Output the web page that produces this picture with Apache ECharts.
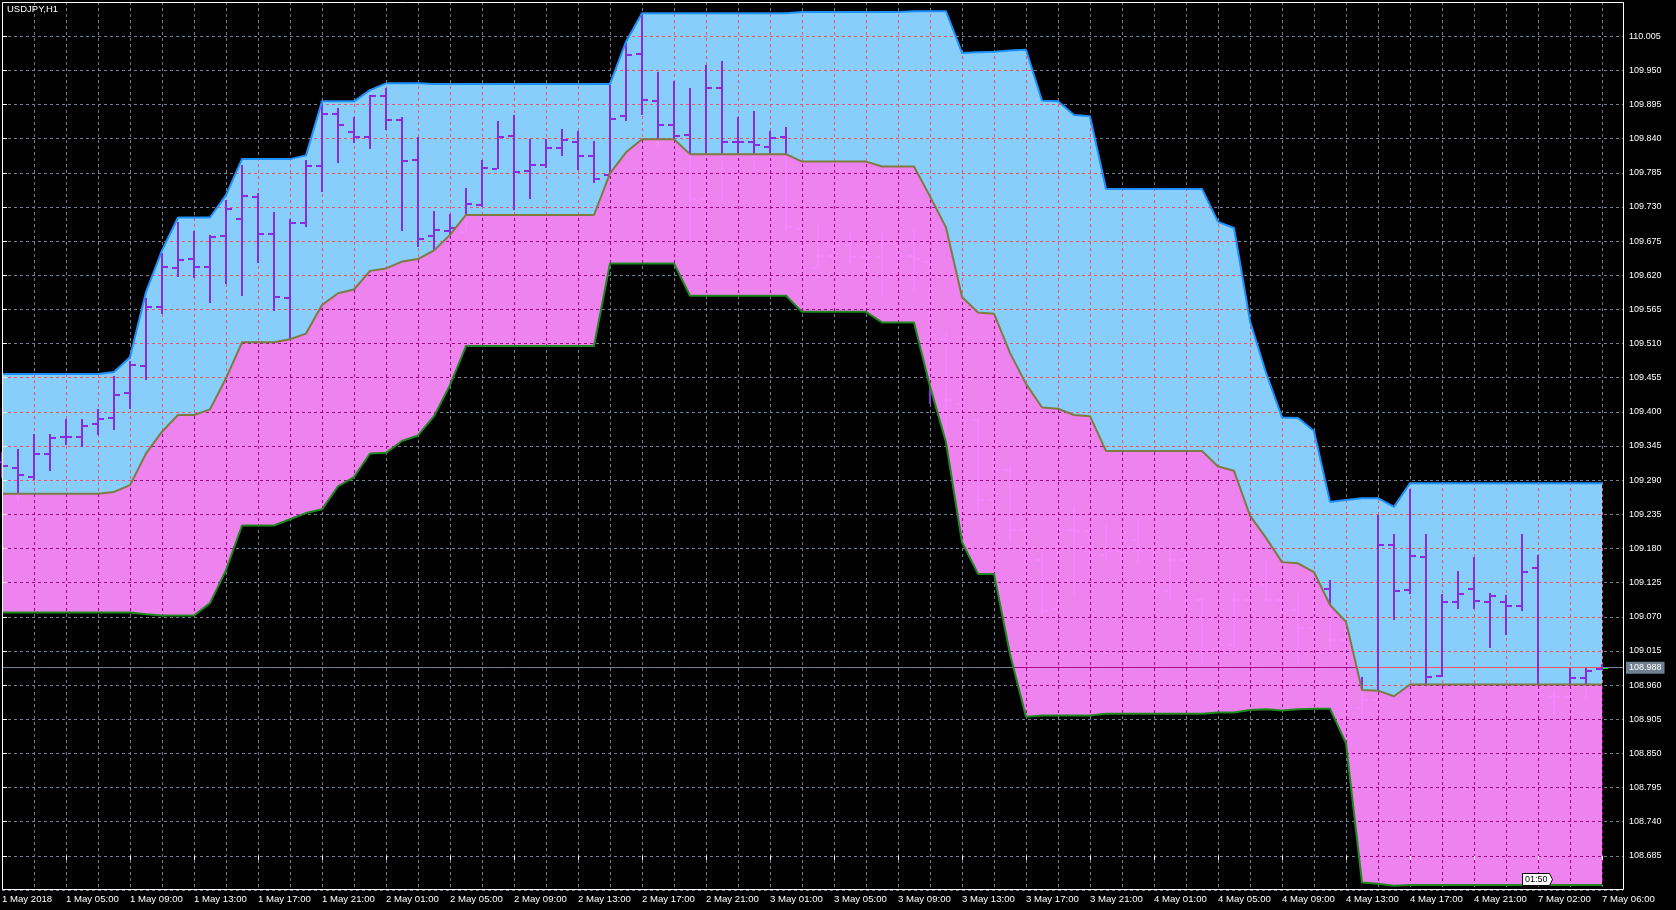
<!DOCTYPE html>
<html>
<head>
<meta charset="utf-8">
<title>USDJPY,H1</title>
<script src="https://cdn.jsdelivr.net/npm/echarts@6/dist/echarts.min.js"></script>
<style>
html,body{margin:0;padding:0;background:#000;overflow:hidden;}
#chart{width:1676px;height:910px;}
</style>
</head>
<body>
<div id="chart"></div>
<script>
// ---------------- data ----------------
const chartTitle = 'USDJPY,H1';
const countdownText = '01:50';
const lastPrice = 108.988;

// x tick labels, one every 4 hourly bars (bar index 0,4,8,...,100)
const tickLabels = ['1 May 2018','1 May 05:00','1 May 09:00','1 May 13:00','1 May 17:00','1 May 21:00',
  '2 May 01:00','2 May 05:00','2 May 09:00','2 May 13:00','2 May 17:00','2 May 21:00',
  '3 May 01:00','3 May 05:00','3 May 09:00','3 May 13:00','3 May 17:00','3 May 21:00',
  '4 May 01:00','4 May 05:00','4 May 09:00','4 May 13:00','4 May 17:00','4 May 21:00',
  '7 May 02:00','7 May 06:00'];

// y tick labels
const priceTicks = ['108.685','108.740','108.795','108.850','108.905','108.960','109.015','109.070','109.125',
  '109.180','109.235','109.290','109.345','109.400','109.455','109.510','109.565','109.620','109.675',
  '109.730','109.785','109.840','109.895','109.950','110.005'];

const upperBand = [
109.461,109.461,109.461,109.461,109.461,109.461,109.461,109.464,109.488,109.593,
109.660,109.713,109.713,109.713,109.749,109.807,109.807,109.807,109.807,109.813,
109.900,109.900,109.900,109.918,109.929,109.929,109.929,109.928,109.928,109.928,
109.928,109.928,109.928,109.928,109.928,109.928,109.928,109.928,109.928,109.996,
110.042,110.042,110.042,110.042,110.042,110.042,110.042,110.042,110.042,110.042,
110.044,110.044,110.044,110.044,110.044,110.044,110.044,110.045,110.045,110.045,
109.978,109.979,109.980,109.982,109.983,109.901,109.900,109.878,109.876,109.759,
109.759,109.759,109.759,109.759,109.759,109.759,109.706,109.696,109.546,109.463,
109.391,109.390,109.369,109.255,109.258,109.261,109.261,109.247,109.285,109.285,
109.285,109.285,109.285,109.285,109.285,109.285,109.285,109.285,109.285,109.285,
109.285];

const middleBand = [
109.268,109.268,109.268,109.268,109.268,109.268,109.268,109.271,109.282,109.333,
109.368,109.395,109.395,109.404,109.454,109.512,109.512,109.512,109.517,109.526,
109.572,109.591,109.597,109.627,109.631,109.642,109.646,109.660,109.685,109.717,
109.717,109.717,109.717,109.717,109.717,109.717,109.717,109.717,109.784,109.818,
109.839,109.839,109.839,109.815,109.815,109.815,109.815,109.815,109.815,109.815,
109.803,109.803,109.803,109.803,109.803,109.795,109.795,109.795,109.747,109.697,
109.585,109.560,109.558,109.495,109.445,109.407,109.405,109.395,109.393,109.337,
109.337,109.337,109.337,109.337,109.337,109.337,109.312,109.305,109.233,109.197,
109.158,109.156,109.142,109.089,109.062,108.952,108.951,108.942,108.961,108.961,
108.961,108.961,108.961,108.961,108.961,108.961,108.961,108.961,108.961,108.961,
108.961];

const lowerBand = [
109.077,109.077,109.077,109.077,109.077,109.077,109.077,109.077,109.077,109.074,
109.072,109.072,109.072,109.092,109.145,109.217,109.217,109.217,109.227,109.237,
109.243,109.280,109.295,109.333,109.334,109.353,109.362,109.393,109.443,109.506,
109.506,109.506,109.506,109.506,109.506,109.506,109.506,109.506,109.639,109.639,
109.639,109.639,109.639,109.587,109.587,109.587,109.587,109.587,109.587,109.587,
109.561,109.561,109.561,109.561,109.561,109.544,109.544,109.544,109.441,109.351,
109.190,109.139,109.139,109.010,108.909,108.911,108.911,108.911,108.911,108.914,
108.914,108.914,108.914,108.914,108.914,108.914,108.916,108.916,108.920,108.921,
108.919,108.921,108.922,108.922,108.866,108.642,108.640,108.637,108.638,108.638,
108.638,108.638,108.638,108.638,108.638,108.638,108.638,108.638,108.638,108.638,
108.638];

const barOpen = [
109.319,109.310,109.295,109.332,109.360,109.360,109.380,109.390,109.430,109.474,
109.569,109.632,109.646,109.633,109.683,109.710,109.746,109.686,109.583,109.704,
109.796,109.879,109.851,109.842,109.909,109.870,109.805,109.683,109.691,109.690,
109.733,109.791,109.844,109.788,109.797,109.825,109.835,109.812,109.781,109.877,
109.977,109.901,109.862,109.846,109.742,109.922,109.835,109.835,109.827,109.843,
109.695,109.632,109.651,109.668,109.649,109.649,109.670,109.651,109.641,109.518,
109.412,109.387,109.258,109.306,109.209,109.161,109.082,109.209,109.208,109.169,
109.176,109.193,109.177,109.111,109.161,109.097,109.016,109.024,109.097,109.121,
109.097,109.081,109.052,109.114,109.032,108.923,108.936,109.185,109.113,109.166,
108.974,109.093,109.114,109.093,109.093,109.087,109.149,108.940,108.940,108.971,
108.986];

const barHigh = [
109.335,109.340,109.365,109.365,109.389,109.389,109.404,109.457,109.482,109.584,
109.656,109.705,109.691,109.685,109.741,109.797,109.752,109.722,109.710,109.805,
109.899,109.889,109.875,109.911,109.921,109.875,109.842,109.724,109.718,109.761,
109.806,109.868,109.878,109.840,109.840,109.855,109.852,109.836,109.926,109.996,
110.042,109.948,109.933,109.921,109.958,109.965,109.875,109.884,109.852,109.858,
109.699,109.704,109.685,109.688,109.683,109.688,109.676,109.693,109.652,109.528,
109.470,109.390,109.354,109.314,109.213,109.182,109.234,109.248,109.211,109.219,
109.209,109.226,109.182,109.177,109.174,109.100,109.032,109.111,109.140,109.161,
109.121,109.108,109.121,109.129,109.052,108.973,109.234,109.204,109.275,109.204,
109.106,109.143,109.166,109.109,109.105,109.204,109.169,108.952,108.988,108.988,
108.994];

const barLow = [
109.293,109.255,109.291,109.305,109.347,109.344,109.362,109.370,109.404,109.451,
109.558,109.617,109.616,109.575,109.606,109.587,109.640,109.563,109.518,109.697,
109.754,109.801,109.833,109.824,109.854,109.691,109.666,109.660,109.676,109.689,
109.730,109.791,109.725,109.742,109.792,109.812,109.789,109.768,109.780,109.869,
109.878,109.827,109.840,109.676,109.665,109.741,109.773,109.781,109.776,109.693,
109.631,109.631,109.641,109.639,109.620,109.585,109.636,109.596,109.412,109.354,
109.370,109.240,109.240,109.190,109.126,109.074,109.080,109.103,109.139,109.161,
109.145,109.158,109.103,109.097,109.081,108.995,108.992,109.019,109.089,109.093,
109.056,108.995,109.016,109.008,108.911,108.903,108.928,109.064,109.106,108.962,
108.973,109.082,109.082,109.020,109.040,109.079,108.936,108.911,108.936,108.938,
108.984];

const barClose = [
109.313,109.298,109.332,109.358,109.360,109.377,109.388,109.427,109.476,109.569,
109.633,109.644,109.633,109.682,109.726,109.747,109.686,109.585,109.704,109.796,
109.879,109.862,109.842,109.909,109.870,109.804,109.678,109.693,109.696,109.734,
109.793,109.843,109.786,109.797,109.825,109.837,109.812,109.775,109.871,109.975,
109.902,109.862,109.844,109.742,109.922,109.835,109.835,109.829,109.841,109.697,
109.632,109.651,109.668,109.649,109.649,109.670,109.651,109.646,109.523,109.419,
109.387,109.258,109.306,109.209,109.161,109.079,109.209,109.208,109.169,109.176,
109.193,109.177,109.111,109.161,109.097,109.016,109.024,109.097,109.121,109.097,
109.081,109.052,109.110,109.032,108.923,108.936,109.185,109.111,109.168,108.973,
109.093,109.106,109.095,109.104,109.087,109.142,108.944,108.940,108.972,108.983,
108.988];

// ---------------- helpers ----------------
const FONT = 'Liberation Sans';
const BASE = 108.685, SCALE = 1000, STEP = 55;     // axis runs in 0.001 units above 108.685
const toV = p => (p - BASE) * SCALE;
const N = upperBand.length;
const X_MAX = 101.3125;
const GRID = {left: 2, top: 2, right: 53, bottom: 20};

const C = {
  grid: '#708090', gridOnBlue: '#F74E6A', gridOnPink: '#9E027E',
  blue: '#87CEFA', pink: 'rgba(253,138,253,0.94)',
  upper: '#1E90FF', middle: '#7F7A40', lower: '#1E8A1E', bar: '#8A2BE2'
};

const U = upperBand.map(toV), M = middleBand.map(toV), L = lowerBand.map(toV);

function above(a, b, p) { if (a > p && b > p) return [0, 1]; if (a <= p && b <= p) return null; const t = (p - a) / (b - a); return a > p ? [0, t] : [t, 1]; }
function below(a, b, p) { return above(-a, -b, -p); }
function both(I, J) { if (!I || !J) return null; const s = Math.max(I[0], J[0]), e = Math.min(I[1], J[1]); return e - s > 1e-9 ? [s, e] : null; }
function addPiece(arr, s, e) { const last = arr[arr.length - 1]; if (last && Math.abs(last[1] - s) < 1e-9) last[1] = e; else arr.push([s, e]); }
function levelPieces(p) {
  const out = {blue: [], pink: [], dark: []};
  for (let i = 0; i < N - 1; i++) {
    const b = both(above(U[i], U[i + 1], p), below(M[i], M[i + 1], p)); if (b) addPiece(out.blue, i + b[0], i + b[1]);
    const k = both(above(M[i], M[i + 1], p), below(L[i], L[i + 1], p)); if (k) addPiece(out.pink, i + k[0], i + k[1]);
    const d1 = below(U[i], U[i + 1], p); if (d1) addPiece(out.dark, i + d1[0], i + d1[1]);
    const d2 = above(L[i], L[i + 1], p); if (d2) addPiece(out.dark, i + d2[0], i + d2[1]);
  }
  addPiece(out.dark, N - 1, X_MAX);
  return out;
}

// overlay segments: [x0, v0, x1, v1, type]
// type 0 grid on blue, 1 grid on pink, 2 price line on black, 3 price on blue, 4 price on pink
const lowOverlay = [], highOverlay = [];
for (let k = 0; k < priceTicks.length; k++) {
  const p = STEP * k;
  const pc = levelPieces(p);
  pc.blue.forEach(s => lowOverlay.push([s[0], p, s[1], p, 0]));
  pc.pink.forEach(s => highOverlay.push([s[0], p, s[1], p, 1]));
}
for (let i = 2; i < N; i += 2) {
  if (U[i] > M[i]) lowOverlay.push([i, U[i], i, M[i], 0]);
  if (M[i] > L[i]) highOverlay.push([i, M[i], i, L[i], 1]);
}
{
  const p = toV(lastPrice);
  const pc = levelPieces(p);
  pc.blue.forEach(s => lowOverlay.push([s[0], p, s[1], p, 3]));
  pc.pink.forEach(s => highOverlay.push([s[0], p, s[1], p, 4]));
  pc.dark.forEach(s => highOverlay.push([s[0], p, s[1], p, 2]));
}

function snap(v) { const d = Math.round(v * 2); return (d + 1) % 2 === 0 ? d / 2 : (d + 1) / 2; }
const overlayColors = [C.gridOnBlue, C.gridOnPink, C.grid, C.gridOnBlue, C.gridOnPink];
function renderOverlay(params, api) {
  const a = api.coord([api.value(0), api.value(1)]);
  const b = api.coord([api.value(2), api.value(3)]);
  const t = api.value(4);
  const dashed = t < 2;
  let shape, off;
  if (Math.abs(a[1] - b[1]) < 0.01) {
    const y = snap(a[1]); const x1 = Math.min(a[0], b[0]), x2 = Math.max(a[0], b[0]);
    shape = {x1: x1, y1: y, x2: x2, y2: y}; off = x1 - GRID.left;
  } else {
    const x = snap(a[0]); const y1 = Math.min(a[1], b[1]), y2 = Math.max(a[1], b[1]);
    shape = {x1: x, y1: y1, x2: x, y2: y2}; off = y1 - GRID.top;
  }
  return {type: 'line', shape: shape, silent: true,
    style: {stroke: overlayColors[t], lineWidth: 1, lineDash: dashed ? [3, 3] : null, lineDashOffset: dashed ? off : 0}};
}

function bandPolygon(topArr, botArr, fill) {
  return function (params, api) {
    if (params.dataIndex !== 0) return null;
    const pts = [];
    for (let i = 0; i < N; i++) pts.push(api.coord([i, topArr[i]]));
    for (let i = N - 1; i >= 0; i--) pts.push(api.coord([i, botArr[i]]));
    return {type: 'polygon', shape: {points: pts}, style: {fill: fill}, silent: true};
  };
}

const barData = barOpen.map((o, i) => [i, toV(o), toV(barHigh[i]), toV(barLow[i]), toV(barClose[i])]);
function renderBar(params, api) {
  const i = api.value(0);
  const pO = api.coord([i, api.value(1)]), pH = api.coord([i, api.value(2)]);
  const pL = api.coord([i, api.value(3)]), pC = api.coord([i, api.value(4)]);
  const x = Math.round(pO[0]);
  const yH = Math.round(pH[1]), yL = Math.round(pL[1]);
  const last = params.dataIndex === N - 1;
  return {type: 'group', silent: true, children: [
    {type: 'rect', shape: {x: x - 1, y: yH, width: 2, height: Math.max(1, yL - yH)}, style: {fill: C.bar}},
    {type: 'rect', shape: {x: x - 6, y: Math.round(pO[1]) - 1, width: 5, height: 2}, style: {fill: C.bar}},
    {type: 'rect', shape: {x: x + 1, y: Math.round(pC[1]) - 1, width: 5, height: 2}, style: {fill: last ? '#00FF00' : C.bar}}
  ]};
}

const lineSeries = (arr, color, z, extra) => Object.assign({
  type: 'line', data: arr.map((v, i) => [i, v]), symbol: 'none', showSymbol: false, silent: true,
  lineStyle: {color: color, width: 2}, z: z, animation: false
}, extra || {});

const dashStyle = {color: C.grid, width: 1, type: [3, 3]};
const axisText = {color: '#FFFFFF', fontFamily: FONT};

const option = {
  backgroundColor: '#000000',
  animation: false,
  title: {text: chartTitle, left: 7, top: 4, padding: 0, textStyle: {color: '#FFFFFF', fontSize: 9.5, fontWeight: 'normal', fontFamily: FONT}},
  grid: Object.assign({containLabel: false, outerBoundsMode: 'none'}, GRID),
  xAxis: [
    {type: 'value', min: 0, max: X_MAX, interval: 2, axisLine: {show: false}, axisTick: {show: false}, axisLabel: {show: false},
      splitLine: {show: true, lineStyle: dashStyle}},
    {type: 'value', min: 0, max: X_MAX, interval: 4, position: 'bottom', z: 10, axisLine: {show: false}, splitLine: {show: false},
      axisTick: {show: true, length: 4, lineStyle: {color: '#FFFFFF', width: 1}},
      axisLabel: Object.assign({show: true, fontSize: 9.6, align: 'left', margin: 4, showMaxLabel: false, showMinLabel: true,
        formatter: v => (Math.abs(v / 4 - Math.round(v / 4)) < 1e-6 && tickLabels[Math.round(v / 4)]) || ''}, axisText)}
  ],
  yAxis: [
    {type: 'value', min: -STEP, max: STEP * 25, interval: STEP, position: 'right', axisLine: {show: false}, axisTick: {show: false},
      axisLabel: {show: false}, splitLine: {show: true, lineStyle: dashStyle}},
    {type: 'value', min: -STEP, max: STEP * 25, interval: STEP, position: 'right', z: 10, axisLine: {show: false}, splitLine: {show: false},
      axisTick: {show: true, length: 5, lineStyle: {color: '#FFFFFF', width: 1}},
      axisLabel: Object.assign({show: true, fontSize: 9, margin: 6, showMinLabel: false, showMaxLabel: false,
        formatter: v => { const k = Math.round(v / STEP); return priceTicks[k] || ''; }}, axisText)}
  ],
  series: [
    {type: 'custom', z: 2, silent: true, data: [[0, 0]], encode: {x: 0, y: 1}, renderItem: bandPolygon(U, M, C.blue)},
    {type: 'custom', z: 3, silent: true, data: lowOverlay, encode: {x: [0, 2], y: [1, 3]}, renderItem: renderOverlay},
    {type: 'custom', z: 4, silent: true, data: barData, encode: {x: 0, y: [1, 2, 3, 4]}, renderItem: renderBar},
    {type: 'custom', z: 5, silent: true, data: [[0, 0]], encode: {x: 0, y: 1}, renderItem: bandPolygon(M, L, C.pink)},
    {type: 'custom', z: 6, silent: true, data: highOverlay, encode: {x: [0, 2], y: [1, 3]}, renderItem: renderOverlay},
    lineSeries(L, C.lower, 7),
    lineSeries(M, C.middle, 7),
    lineSeries(U, C.upper, 8, {
      markLine: {silent: true, symbol: 'none', animation: false, data: [{yAxis: toV(lastPrice)}],
        lineStyle: {width: 0, color: 'rgba(0,0,0,0)'},
        label: {show: true, position: 'end', distance: 3, formatter: lastPrice.toFixed(3), color: '#FFFFFF',
          backgroundColor: '#708090', padding: [2, 3, 1, 3], fontSize: 9, fontFamily: FONT}}
    })
  ],
  graphic: [
    {type: 'rect', z: 100, silent: true, shape: {x: 2.5, y: 2.5, width: 1621, height: 887}, style: {fill: null, stroke: '#FFFFFF', lineWidth: 1}},
    {type: 'polygon', z: 101, silent: true, shape: {points: [[1522.5, 873.5], [1549.5, 873.5], [1552.5, 879.5], [1549.5, 885.5], [1522.5, 885.5]]},
      style: {fill: '#FFFFFF', stroke: '#000000', lineWidth: 1}},
    {type: 'text', z: 102, silent: true, x: 1525, y: 880, style: {text: countdownText, fill: '#000000', font: '9px "Liberation Sans"', verticalAlign: 'middle'}}
  ]
};

const chart = echarts.init(document.getElementById('chart'), null, {renderer: 'canvas', width: 1676, height: 910});
chart.setOption(option);
</script>
</body>
</html>
